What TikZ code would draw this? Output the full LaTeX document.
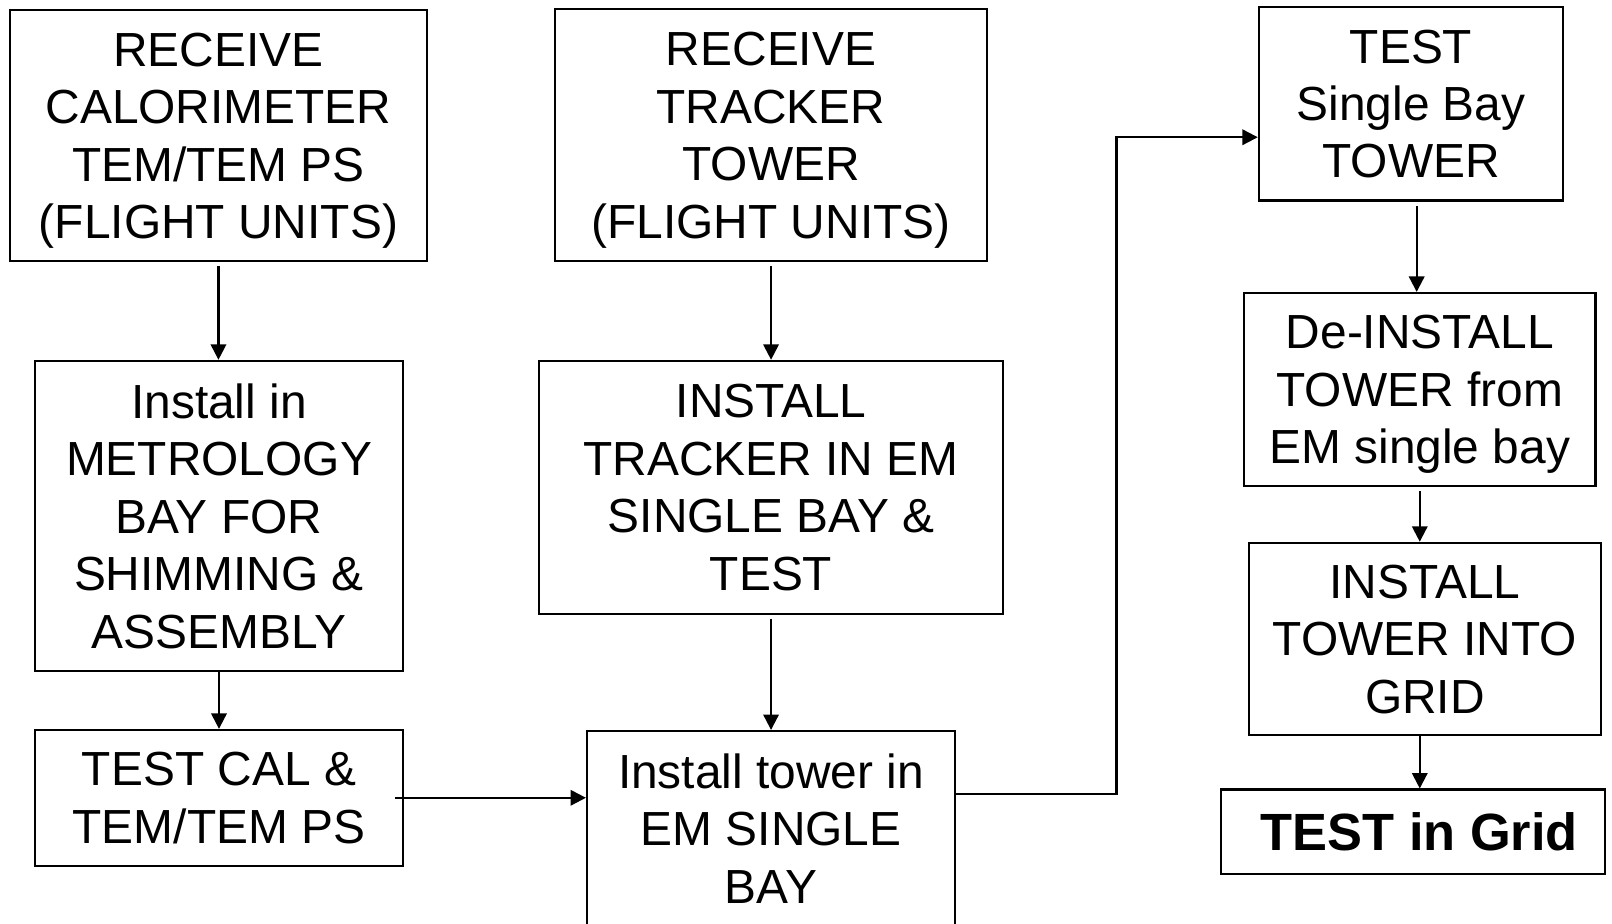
\documentclass[tikz,border=0pt]{standalone}
\usepackage{fontspec}
\setmainfont{Liberation Sans}
\usetikzlibrary{arrows.meta}
\begin{document}
\begin{tikzpicture}[>={Triangle[length=0.15cm,width=0.15cm]}, line width=0.6pt]
        \tikzstyle{box}=[draw, align=center, inner sep=0pt, text depth=0pt, font=\fontsize{13.25}{15.9}\selectfont]
        \tikzstyle{flow}=[->, shorten <=0.04cm]
        \useasboundingbox (0,0) rectangle (15.68,-8.98);
        \clip (0,0) rectangle (15.68,-8.98);
        \node[box, minimum width=4.05cm, minimum height=2.44cm] (calrecv) at (2.125,-1.32) {RECEIVE\\CALORIMETER\\TEM/TEM PS\\(FLIGHT UNITS)};
        \node[box, minimum width=3.58cm, minimum height=3.02cm] (metro) at (2.13,-5.02) {Install in\\METROLOGY\\BAY FOR\\SHIMMING \&\\ASSEMBLY};
        \node[box, minimum width=3.58cm, minimum height=1.32cm] (caltest) at (2.13,-7.76) {TEST CAL \&\\TEM/TEM PS};
        \node[box, minimum width=4.20cm, minimum height=2.45cm] (trkrecv) at (7.50,-1.315) {RECEIVE\\TRACKER\\TOWER\\(FLIGHT UNITS)};
        \node[box, minimum width=4.52cm, minimum height=2.46cm] (trkinst) at (7.50,-4.74) {INSTALL\\TRACKER IN EM\\SINGLE BAY \&\\TEST};
        \node[box, minimum width=3.58cm, anchor=north, inner ysep=0.22cm, text depth=1.6cm] (bay) at (7.50,-7.10) {Install tower in\\EM SINGLE\\BAY};
        \node[box, minimum width=2.96cm, minimum height=1.88cm] (single) at (13.725,-1.01) {TEST\\Single Bay\\TOWER};
        \node[box, minimum width=3.42cm, minimum height=1.88cm] (deinst) at (13.81,-3.79) {De-INSTALL\\TOWER from\\EM single bay};
        \node[box, minimum width=3.42cm, minimum height=1.87cm] (grid) at (13.86,-6.215) {INSTALL\\TOWER INTO\\GRID};
        \node[box, minimum width=3.73cm, minimum height=0.82cm, font=\fontsize{14.5}{17}\selectfont\bfseries] (gridtest) at (13.745,-8.09) {\hspace*{0.12cm}TEST in Grid};
    \draw[flow] (calrecv.south) -- (calrecv.south |- metro.north);
    \draw[->] (metro.south) -- (metro.south |- caltest.north);
    \draw[->] ([xshift=-0.09cm]caltest.east) -- (caltest.east -| bay.west);
    \draw[flow] (trkrecv.south) -- (trkrecv.south |- trkinst.north);
    \draw[flow] (trkinst.south) -- (trkinst.south |- bay.north);
    \draw[->] ([yshift=-0.62cm]bay.north east) -- ++(1.56,0) |- ([yshift=-0.325cm]single.west);
    \draw[flow] ([xshift=0.055cm]single.south) -- ([xshift=0.055cm]single.south |- deinst.north);
    \draw[flow] (deinst.south) -- (deinst.south |- grid.north);
    \draw[->] (deinst.south |- grid.south) -- (deinst.south |- gridtest.north);
\end{tikzpicture}
\end{document}
